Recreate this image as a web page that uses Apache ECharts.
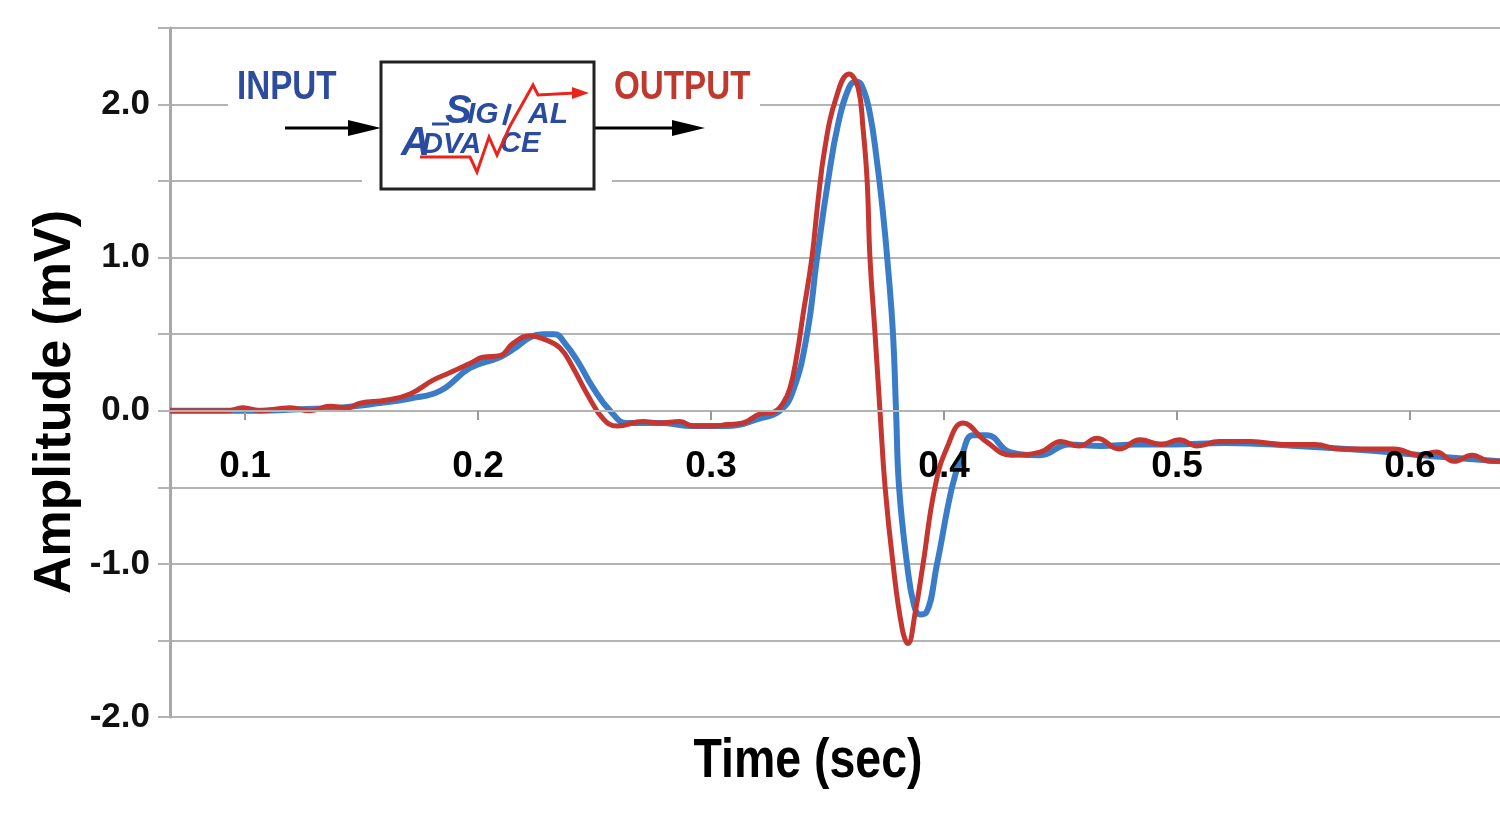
<!DOCTYPE html>
<html>
<head>
<meta charset="utf-8">
<script src="https://cdn.jsdelivr.net/npm/echarts@6/dist/echarts.min.js"></script>
<style>
html,body{margin:0;padding:0;background:#fff;}
#chart{width:1500px;height:825px;}
</style>
</head>
<body>
<div id="chart"></div>
<script>
// ---- Data ----
const inputTime = [0.0678,0.0923,0.1064,0.1236,0.1408,0.1579,0.1708,0.1837,0.1966,0.2094,0.2159,0.2223,0.2279,0.2330,0.2373,0.2425,0.2494,0.2567,0.2639,0.2781,0.2923,0.3069,0.3210,0.3296,0.3352,0.3412,0.3455,0.3502,0.3545,0.3592,0.3622,0.3648,0.3682,0.3712,0.3738,0.3760,0.3781,0.3794,0.3807,0.3841,0.3871,0.3897,0.3923,0.3970,0.4034,0.4077,0.4124,0.4185,0.4283,0.4412,0.4536,0.4674,0.4824,0.4979,0.5210,0.5515,0.5824,0.6129,0.6386];
const inputAmp  = [0,0,0,0.01,0.02,0.05,0.08,0.13,0.28,0.35,0.41,0.48,0.50,0.50,0.44,0.33,0.15,0,-0.08,-0.08,-0.10,-0.10,-0.05,0,0.13,0.50,1.00,1.50,1.87,2.11,2.15,2.12,1.94,1.63,1.29,0.93,0.50,0,-0.50,-1.00,-1.27,-1.33,-1.32,-1.00,-0.50,-0.29,-0.16,-0.16,-0.27,-0.29,-0.22,-0.23,-0.22,-0.22,-0.21,-0.23,-0.26,-0.30,-0.33];

const outputTime = [0.0678,0.0923,0.0991,0.1064,0.1193,0.1279,0.1365,0.1438,0.1494,0.1609,0.1708,0.1807,0.1880,0.1966,0.2021,0.2094,0.2150,0.2223,0.2279,0.2352,0.2408,0.2468,0.2536,0.2597,0.2708,0.2781,0.2867,0.2923,0.3009,0.3069,0.3137,0.3210,0.3266,0.3309,0.3339,0.3369,0.3395,0.3433,0.3459,0.3489,0.3532,0.3592,0.3631,0.3652,0.3670,0.3682,0.3704,0.3725,0.3747,0.3781,0.3820,0.3845,0.3876,0.3910,0.3961,0.4013,0.4082,0.4180,0.4288,0.4412,0.4502,0.4579,0.4657,0.4751,0.4841,0.4931,0.5009,0.5086,0.5180,0.5318,0.5455,0.5592,0.5700,0.5824,0.5931,0.6039,0.6112,0.6189,0.6266,0.6343,0.6386];
const outputAmp  = [0,0,0.02,0,0.02,0,0.03,0.02,0.05,0.07,0.11,0.20,0.25,0.31,0.35,0.36,0.44,0.49,0.47,0.41,0.28,0.11,-0.05,-0.10,-0.07,-0.08,-0.07,-0.10,-0.10,-0.09,-0.08,-0.02,-0.01,0.05,0.15,0.37,0.63,1.00,1.37,1.72,2.02,2.20,2.11,1.85,1.50,1.00,0.50,0,-0.50,-1.00,-1.42,-1.52,-1.32,-1.00,-0.50,-0.24,-0.08,-0.20,-0.29,-0.27,-0.20,-0.23,-0.18,-0.25,-0.19,-0.22,-0.19,-0.23,-0.20,-0.20,-0.22,-0.22,-0.25,-0.25,-0.25,-0.29,-0.27,-0.33,-0.29,-0.33,-0.33];

const xTickValues = [0.1,0.2,0.3,0.4,0.5,0.6];
const yTickLabels = ['-2.0','-1.0','0.0','1.0','2.0'];
const seriesNames = ['INPUT','OUTPUT'];

// ---- Chart ----
const chart = echarts.init(document.getElementById('chart'));
const zip = (t, v) => t.map((x, i) => [x, v[i]]);
const BLUE = '#3b7cc8';
const RED = '#c4362f';
const GRID = '#b4b4b4';
const LOGO_BLUE = '#2a4ca0';
const LOGO_RED = '#e8241c';

const option = {
  backgroundColor: '#ffffff',
  animation: false,
  grid: { left: 170, right: 0, top: 28, bottom: 108, containLabel: false },
  xAxis: {
    type: 'value',
    min: 0.0678,
    max: 0.6386,
    offset: -306,
    z: 10,
    axisLine: { show: true, onZero: false, lineStyle: { color: GRID, width: 2 } },
    axisTick: { show: true, customValues: xTickValues, length: 9, lineStyle: { color: '#999', width: 2 } },
    axisLabel: {
      customValues: xTickValues,
      margin: 37,
      fontSize: 37,
      fontWeight: 'bold',
      fontFamily: "'Liberation Sans', Arial, sans-serif",
      color: '#000',
      formatter: v => v.toFixed(1)
    },
    splitLine: { show: false }
  },
  yAxis: {
    type: 'value',
    min: -2,
    max: 2.5,
    interval: 0.5,
    axisLine: { show: true, onZero: false, lineStyle: { color: '#a8a8a8', width: 3 } },
    axisTick: { show: true, length: 12, lineStyle: { color: GRID, width: 2 } },
    axisLabel: {
      margin: 20,
      fontSize: 35,
      fontWeight: 'bold',
      fontFamily: "'Liberation Sans', Arial, sans-serif",
      color: '#111',
      formatter: v => {
        const s = v.toFixed(1);
        return yTickLabels.indexOf(s) >= 0 ? s : '';
      }
    },
    splitLine: { show: true, lineStyle: { color: GRID, width: 2 } }
  },
  series: [
    {
      name: seriesNames[0], type: 'line', data: zip(inputTime, inputAmp),
      showSymbol: false, symbol: 'none', smooth: 0.45,
      lineStyle: { color: BLUE, width: 6 }, z: 3
    },
    {
      name: seriesNames[1], type: 'line', data: zip(outputTime, outputAmp),
      showSymbol: false, symbol: 'none', smooth: 0.45,
      lineStyle: { color: RED, width: 5 }, z: 4
    }
  ],
  graphic: [
    // white masks hiding gridlines behind the inset
    { type: 'rect', z: 20, shape: { x: 228, y: 96, width: 532, height: 16 }, style: { fill: '#fff' } },
    { type: 'rect', z: 20, shape: { x: 362, y: 175, width: 250, height: 12 }, style: { fill: '#fff' } },
    // INPUT / OUTPUT labels
    { type: 'text', z: 21, x: 237, y: 88, scaleX: 0.83, style: { text: seriesNames[0], fill: '#2e4c9e', font: "bold 40px 'Liberation Sans', Arial, sans-serif", verticalAlign: 'middle', align: 'left' } },
    { type: 'text', z: 21, x: 614, y: 88, scaleX: 0.83, style: { text: seriesNames[1], fill: '#c0392f', font: "bold 40px 'Liberation Sans', Arial, sans-serif", verticalAlign: 'middle', align: 'left' } },
    // arrows
    { type: 'line', z: 21, shape: { x1: 285, y1: 128, x2: 355, y2: 128 }, style: { stroke: '#000', lineWidth: 3 } },
    { type: 'polygon', z: 21, shape: { points: [[348,120],[381,128],[348,136]] }, style: { fill: '#000' } },
    { type: 'line', z: 21, shape: { x1: 594, y1: 128, x2: 678, y2: 128 }, style: { stroke: '#000', lineWidth: 3 } },
    { type: 'polygon', z: 21, shape: { points: [[672,120],[705,128],[672,136]] }, style: { fill: '#000' } },
    // box
    { type: 'rect', z: 21, shape: { x: 381, y: 62, width: 213, height: 127 }, style: { fill: '#fff', stroke: '#222', lineWidth: 3 } },
    // logo
    { type: 'line', z: 22, shape: { x1: 432, y1: 124, x2: 449, y2: 124 }, style: { stroke: LOGO_BLUE, lineWidth: 3 } },
    { type: 'text', z: 22, x: 445, y: 112, style: { text: 'S', fill: LOGO_BLUE, font: "italic bold 40px 'Liberation Sans', Arial, sans-serif", verticalAlign: 'middle' } },
    { type: 'text', z: 22, x: 467, y: 115, style: { text: 'IG', fill: LOGO_BLUE, font: "italic bold 30px 'Liberation Sans', Arial, sans-serif", verticalAlign: 'middle' } },
    { type: 'line', z: 22, shape: { x1: 504, y1: 125, x2: 510, y2: 104 }, style: { stroke: LOGO_BLUE, lineWidth: 4 } },
    { type: 'text', z: 22, x: 528, y: 115, style: { text: 'AL', fill: LOGO_BLUE, font: "italic bold 30px 'Liberation Sans', Arial, sans-serif", verticalAlign: 'middle' } },
    { type: 'text', z: 22, x: 401, y: 144, style: { text: 'A', fill: LOGO_BLUE, font: "italic bold 40px 'Liberation Sans', Arial, sans-serif", verticalAlign: 'middle' } },
    { type: 'text', z: 22, x: 422, y: 145, style: { text: 'DVA', fill: LOGO_BLUE, font: "italic bold 29px 'Liberation Sans', Arial, sans-serif", verticalAlign: 'middle' } },
    { type: 'text', z: 22, x: 500, y: 144, style: { text: 'CE', fill: LOGO_BLUE, font: "italic bold 29px 'Liberation Sans', Arial, sans-serif", verticalAlign: 'middle' } },
    { type: 'polyline', z: 23, shape: { points: [[420,157],[470,157],[477,172],[489,137],[497,155],[510,126],[533,85],[538,95],[575,93]] }, style: { stroke: LOGO_RED, lineWidth: 3, fill: null } },
    { type: 'polygon', z: 23, shape: { points: [[572,87],[589,93],[572,99]] }, style: { fill: LOGO_RED } },
    // axis titles
    { type: 'text', z: 21, x: 808, y: 762, scaleX: 0.83, style: { text: 'Time (sec)', fill: '#000', font: "bold 56px 'Liberation Sans', Arial, sans-serif", align: 'center', verticalAlign: 'middle' } },
    { type: 'text', z: 21, x: 56, y: 402, rotation: Math.PI / 2, style: { text: 'Amplitude (mV)', fill: '#000', font: "bold 52px 'Liberation Sans', Arial, sans-serif", align: 'center', verticalAlign: 'middle' } }
  ]
};
chart.setOption(option);
</script>
</body>
</html>
